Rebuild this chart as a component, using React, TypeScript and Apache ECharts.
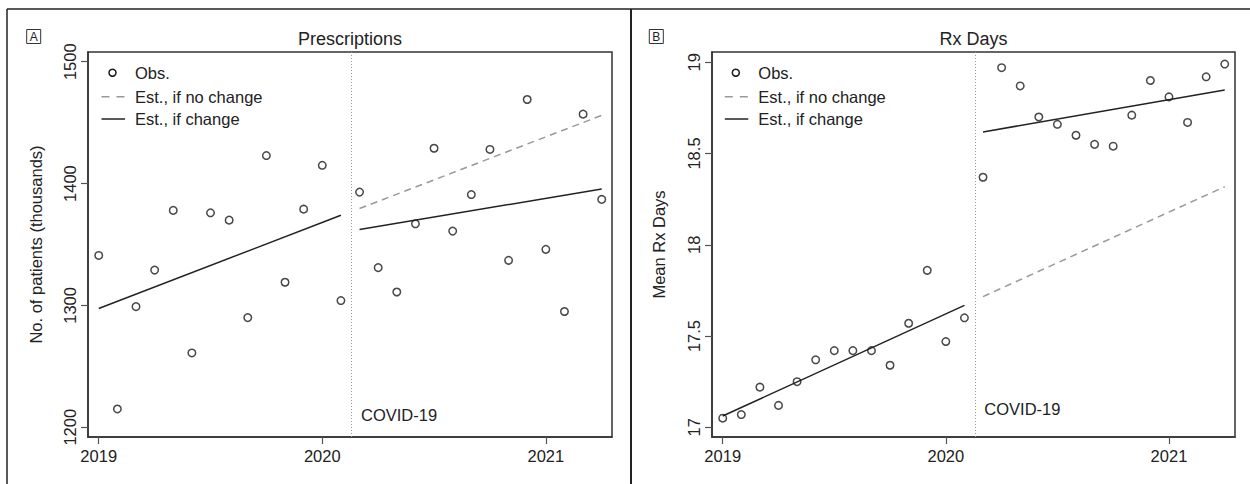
import React, { useEffect, useRef } from "react";
import * as echarts from "echarts";

const months: string[] = [
  "2019-01","2019-02","2019-03","2019-04","2019-05","2019-06","2019-07","2019-08","2019-09","2019-10","2019-11","2019-12",
  "2020-01","2020-02","2020-03","2020-04","2020-05","2020-06","2020-07","2020-08","2020-09","2020-10","2020-11","2020-12",
  "2021-01","2021-02","2021-03","2021-04",
];

const prescriptions: number[] = [
  1341, 1215, 1299, 1329, 1378, 1261, 1376, 1370, 1290, 1423, 1319, 1379,
  1415, 1304, 1393, 1331, 1311, 1367, 1429, 1361, 1391, 1428, 1337, 1469,
  1346, 1295, 1457, 1387,
];

const rxDays: number[] = [
  17.05, 17.07, 17.22, 17.12, 17.25, 17.37, 17.42, 17.42, 17.42, 17.34, 17.57, 17.86,
  17.47, 17.6, 18.37, 18.97, 18.87, 18.7, 18.66, 18.6, 18.55, 18.54, 18.71, 18.9,
  18.81, 18.67, 18.92, 18.99,
];

// fitted segments: [month, value]
const rxPreFit: [string, number][] = [["2019-01", 1297.5], ["2020-02", 1374]];
const rxPostFit: [string, number][] = [["2020-03", 1362.3], ["2021-04", 1395.6]];
const rxNoChange: [string, number][] = [["2020-03", 1379.5], ["2021-04", 1456]];

const daysPreFit: [string, number][] = [["2019-01", 17.062], ["2020-02", 17.668]];
const daysPostFit: [string, number][] = [["2020-03", 18.618], ["2021-04", 18.848]];
const daysNoChange: [string, number][] = [["2020-03", 17.716], ["2021-04", 18.318]];

const xTicks = [2019, 2020, 2021];
const yTicksA = [1200, 1300, 1400, 1500];
const yTicksB = [17, 17.5, 18, 18.5, 19];
const interventionX = 2020.125;

const legendLabels = ["Obs.", "Est., if no change", "Est., if change"];

const toYear = (m: string) => {
  const [y, mo] = m.split("-").map(Number);
  return y + (mo - 1) / 12;
};

const FONT = "Liberation Sans, Arial, Helvetica, sans-serif";
const TXT = "#222";

export default function App() {
  const ref = useRef<HTMLDivElement>(null);
  useEffect(() => {
    if (!ref.current) return;
    const chart = echarts.init(ref.current, undefined, { renderer: "svg" });

    const obs = (vals: number[]) => months.map((m, i) => [toYear(m), vals[i]]);
    const seg = (s: [string, number][]) => s.map(([m, v]) => [toYear(m), v]);

    const xAxisBase = (gi: number) => ({
      type: "value",
      gridIndex: gi,
      min: 2018.952,
      max: 2021.296,
      splitLine: { show: false },
      axisLine: { show: true, onZero: false, lineStyle: { color: "#333", width: 1.5 } },
      axisTick: { show: true, customValues: xTicks, length: 7, lineStyle: { color: "#555", width: 1.2 } },
      axisLabel: {
        customValues: xTicks,
        margin: 10,
        color: TXT,
        fontSize: 16.5,
        fontFamily: FONT,
        formatter: (v: number) => String(Math.round(v)),
      },
    });

    const yAxisBase = (gi: number, min: number, max: number, ticks: number[], name: string, gap: number) => ({
      type: "value",
      gridIndex: gi,
      min,
      max,
      name,
      nameLocation: "middle",
      nameGap: gap,
      nameRotate: 90,
      nameTextStyle: { color: TXT, fontSize: 16.5, fontFamily: FONT },
      splitLine: { show: false },
      axisLine: { show: true, lineStyle: { color: "#333", width: 1.5 } },
      axisTick: { show: true, customValues: ticks, length: 7, lineStyle: { color: "#555", width: 1.2 } },
      axisLabel: {
        customValues: ticks,
        rotate: 90,
        margin: 10,
        color: TXT,
        fontSize: 16.5,
        fontFamily: FONT,
        formatter: (v: number) => String(v),
      },
    });

    const scatter = (gi: number, vals: number[]) => ({
      type: "scatter",
      xAxisIndex: gi,
      yAxisIndex: gi,
      data: obs(vals),
      symbol: "circle",
      symbolSize: 7.5,
      itemStyle: { color: "transparent", borderColor: "#1a1a1a", borderWidth: 1.5 },
      z: 5,
    });

    const line = (gi: number, s: [string, number][], dashed: boolean) => ({
      type: "line",
      xAxisIndex: gi,
      yAxisIndex: gi,
      data: seg(s),
      symbol: "none",
      lineStyle: dashed
        ? { color: "#999", width: 1.5, type: [7, 5] }
        : { color: "#222", width: 1.5 },
      z: 3,
    });

    const vline = (gi: number) => ({
      type: "line",
      xAxisIndex: gi,
      yAxisIndex: gi,
      data: [],
      markLine: {
        silent: true,
        symbol: "none",
        label: { show: false },
        lineStyle: { color: "#999", width: 1, type: [1, 2] },
        data: [{ xAxis: interventionX }],
      },
    });

    const legend = (x0: number) => [
      { type: "circle", shape: { cx: x0 - 22.5, cy: 72.7, r: 3.5 }, style: { fill: "none", stroke: "#1a1a1a", lineWidth: 1.5 } },
      { type: "text", x: x0, y: 72.7, style: { text: legendLabels[0], fill: TXT, font: `16.5px ${FONT}`, verticalAlign: "middle" } },
      { type: "line", shape: { x1: x0 - 33.5, y1: 96.7, x2: x0 - 10, y2: 96.7 }, style: { stroke: "#999", lineWidth: 1.5, lineDash: [8, 7] } },
      { type: "text", x: x0, y: 96.7, style: { text: legendLabels[1], fill: TXT, font: `16.5px ${FONT}`, verticalAlign: "middle" } },
      { type: "line", shape: { x1: x0 - 33.5, y1: 119, x2: x0 - 10, y2: 119 }, style: { stroke: "#222", lineWidth: 1.5 } },
      { type: "text", x: x0, y: 119, style: { text: legendLabels[2], fill: TXT, font: `16.5px ${FONT}`, verticalAlign: "middle" } },
    ];

    const panelBox = (x: number, letter: string) => [
      { type: "rect", shape: { x, y: 29.5, width: 14, height: 14 }, style: { fill: "none", stroke: "#333", lineWidth: 1 } },
      { type: "text", x: x + 7, y: 37, style: { text: letter, fill: TXT, font: `12px ${FONT}`, textAlign: "center", verticalAlign: "middle" } },
    ];

    chart.setOption({
      animation: false,
      backgroundColor: "#fff",
      grid: [
        { left: 88, top: 52, width: 524, height: 385, show: true, borderColor: "#333", borderWidth: 1.5, backgroundColor: "transparent" },
        { left: 712, top: 52, width: 523, height: 385, show: true, borderColor: "#333", borderWidth: 1.5, backgroundColor: "transparent" },
      ],
      xAxis: [xAxisBase(0), xAxisBase(1)],
      yAxis: [
        yAxisBase(0, 1192, 1508, yTicksA, "No. of patients (thousands)", 44),
        yAxisBase(1, 16.947, 19.056, yTicksB, "Mean Rx Days", 45),
      ],
      series: [
        vline(0),
        line(0, rxNoChange, true),
        line(0, rxPreFit, false),
        line(0, rxPostFit, false),
        scatter(0, prescriptions),
        vline(1),
        line(1, daysNoChange, true),
        line(1, daysPreFit, false),
        line(1, daysPostFit, false),
        scatter(1, rxDays),
      ],
      graphic: [
        { type: "line", shape: { x1: 7, y1: 9, x2: 1250, y2: 9 }, style: { stroke: "#222", lineWidth: 1.5 } },
        { type: "line", shape: { x1: 7, y1: 9, x2: 7, y2: 484 }, style: { stroke: "#222", lineWidth: 1.5 } },
        { type: "line", shape: { x1: 631, y1: 9, x2: 631, y2: 484 }, style: { stroke: "#222", lineWidth: 2 } },
        ...panelBox(26.7, "A"),
        ...panelBox(649.3, "B"),
        { type: "text", x: 350, y: 39, style: { text: "Prescriptions", fill: TXT, font: `18px ${FONT}`, textAlign: "center", verticalAlign: "middle" } },
        { type: "text", x: 973.5, y: 39, style: { text: "Rx Days", fill: TXT, font: `18px ${FONT}`, textAlign: "center", verticalAlign: "middle" } },
        { type: "text", x: 361, y: 415, style: { text: "COVID-19", fill: TXT, font: `16.5px ${FONT}`, verticalAlign: "middle" } },
        { type: "text", x: 984.3, y: 409, style: { text: "COVID-19", fill: TXT, font: `16.5px ${FONT}`, verticalAlign: "middle" } },
        ...legend(135),
        ...legend(758.3),
      ],
    });
    return () => chart.dispose();
  }, []);

  return (
    <div
      ref={ref}
      style={{ position: "absolute", left: 0, top: 0, width: 1250, height: 484 }}
    />
  );
}
